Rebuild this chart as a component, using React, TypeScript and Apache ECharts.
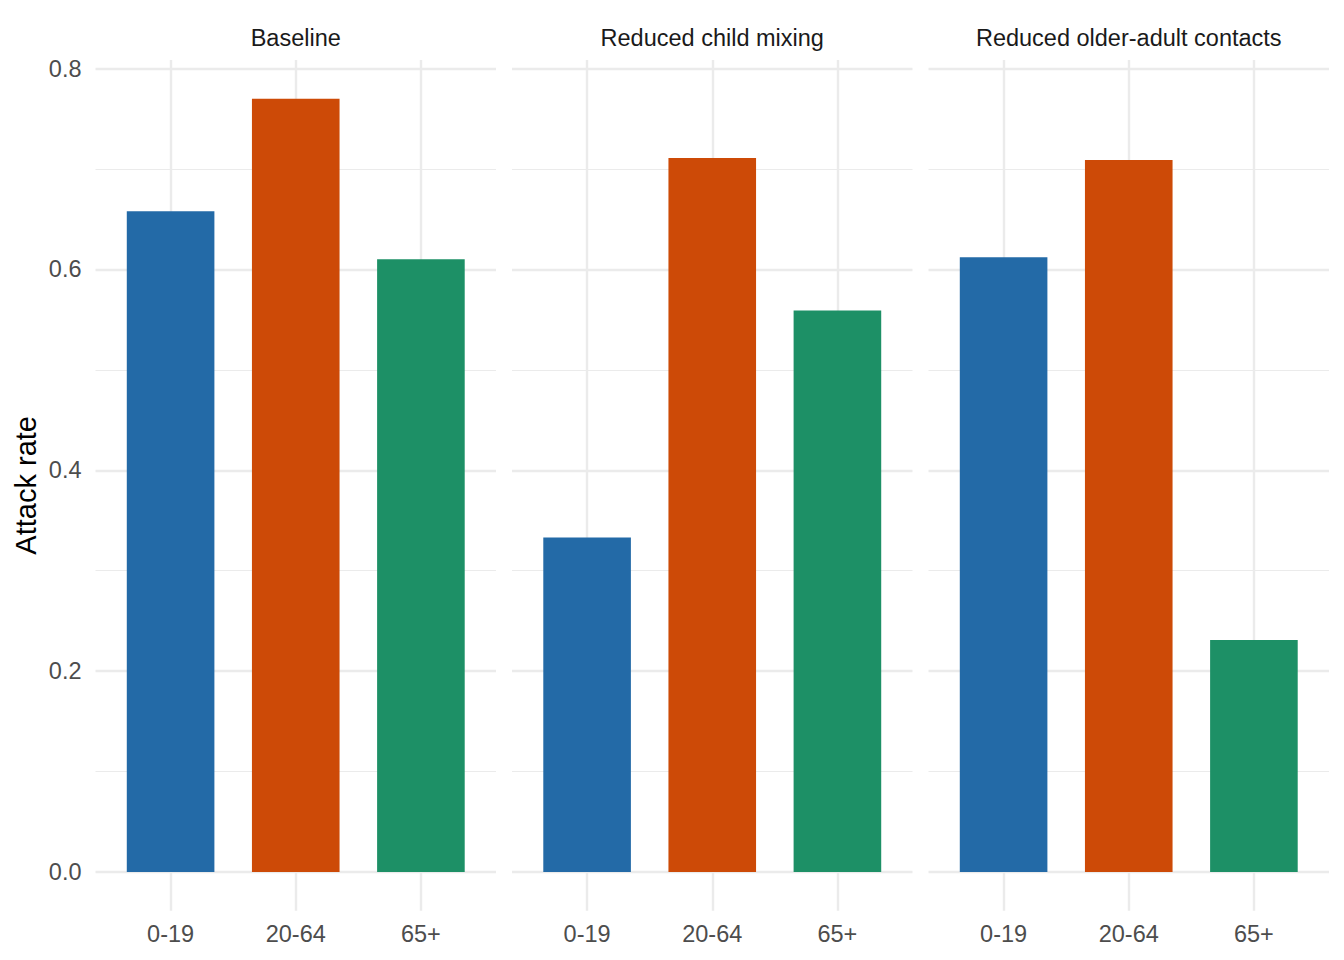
import React, { useEffect, useRef } from "react";
import * as echarts from "echarts";

const scenarios = ["Baseline", "Reduced child mixing", "Reduced older-adult contacts"];
const ageGroups = ["0-19", "20-64", "65+"];
const baselineRates = [0.658, 0.77, 0.61];
const reducedChildRates = [0.333, 0.711, 0.559];
const reducedOlderRates = [0.612, 0.709, 0.231];
const barColors = ["#236AA7", "#CD4A07", "#1D9066"];
const yMajorTicks = [0, 0.2, 0.4, 0.6, 0.8];
const yMinorTicks = [0.1, 0.3, 0.5, 0.7];
const xTicks = [1, 2, 3];

const FONT = "'Liberation Sans', Arial, Helvetica, sans-serif";

export default function App() {
  const ref = useRef<HTMLDivElement>(null);

  useEffect(() => {
    if (!ref.current) return;
    const chart = echarts.init(ref.current, undefined, { renderer: "svg" });
    const panelData = [baselineRates, reducedChildRates, reducedOlderRates];
    const allVals = panelData.flat();
    const dMax = Math.max(...allVals);
    const yMin = -0.05 * dMax;
    const yMax = dMax * 1.05;

    const panelTop = 60;
    const panelHeight = 850.7;
    const panelWidth = 400.5;
    const panelLefts = [95.5, 512, 928.5];
    const xMin = 0.4;
    const xMax = 3.6;
    const barWidth = (0.7 * panelWidth) / (xMax - xMin);

    const grids: any[] = [];
    const xAxes: any[] = [];
    const yAxes: any[] = [];
    const series: any[] = [];
    const graphics: any[] = [];

    panelLefts.forEach((left, g) => {
      grids.push({ left, top: panelTop, width: panelWidth, height: panelHeight, containLabel: false });
      xAxes.push({
        type: "value",
        gridIndex: g,
        min: xMin,
        max: xMax,
        axisLine: { show: false },
        axisTick: { show: false, customValues: xTicks },
        axisLabel: {
          customValues: xTicks,
          formatter: (v: number) => ageGroups[Math.round(v) - 1] ?? "",
          color: "#4D4D4D",
          fontSize: 23.5,
          fontFamily: FONT,
          margin: 11,
        },
        splitLine: { show: true, lineStyle: { color: "#EBEBEB", width: 2.4 } },
      });
      yAxes.push({
        type: "value",
        gridIndex: g,
        min: yMin,
        max: yMax,
        axisLine: { show: false },
        axisTick: { show: false, customValues: yMajorTicks },
        axisLabel: {
          show: g === 0,
          customValues: yMajorTicks,
          formatter: (v: number) => v.toFixed(1),
          color: "#4D4D4D",
          fontSize: 23.5,
          fontFamily: FONT,
          margin: 14,
        },
        splitLine: { show: true, lineStyle: { color: "#EBEBEB", width: 2.4 } },
      });
      yAxes.push({
        type: "value",
        gridIndex: g,
        min: yMin,
        max: yMax,
        axisLine: { show: false },
        axisTick: { show: false, customValues: yMinorTicks },
        axisLabel: { show: false, customValues: yMinorTicks },
        splitLine: { show: true, lineStyle: { color: "#EBEBEB", width: 1.2 } },
      });
      series.push({
        type: "bar",
        name: scenarios[g],
        xAxisIndex: g,
        yAxisIndex: g * 2,
        barWidth,
        data: panelData[g].map((v, i) => ({
          value: [xTicks[i], v],
          name: ageGroups[i],
          itemStyle: { color: barColors[i] },
        })),
      });
      graphics.push({
        type: "text",
        x: left + panelWidth / 2,
        y: 38,
        style: {
          text: scenarios[g],
          fill: "#1A1A1A",
          fontSize: 23.5,
          fontFamily: FONT,
          align: "center",
          verticalAlign: "middle",
        },
      });
    });

    graphics.push({
      type: "text",
      x: 26,
      y: panelTop + panelHeight / 2,
      rotation: Math.PI / 2,
      style: {
        text: "Attack rate",
        fill: "#000000",
        fontSize: 29,
        fontFamily: FONT,
        align: "center",
        verticalAlign: "middle",
      },
    });

    chart.setOption({
      animation: false,
      backgroundColor: "#FFFFFF",
      grid: grids,
      xAxis: xAxes,
      yAxis: yAxes,
      series,
      graphic: graphics,
    });

    return () => chart.dispose();
  }, []);

  return (
    <div
      ref={ref}
      style={{ position: "fixed", left: 0, top: 0, width: 1344, height: 960 }}
    />
  );
}
